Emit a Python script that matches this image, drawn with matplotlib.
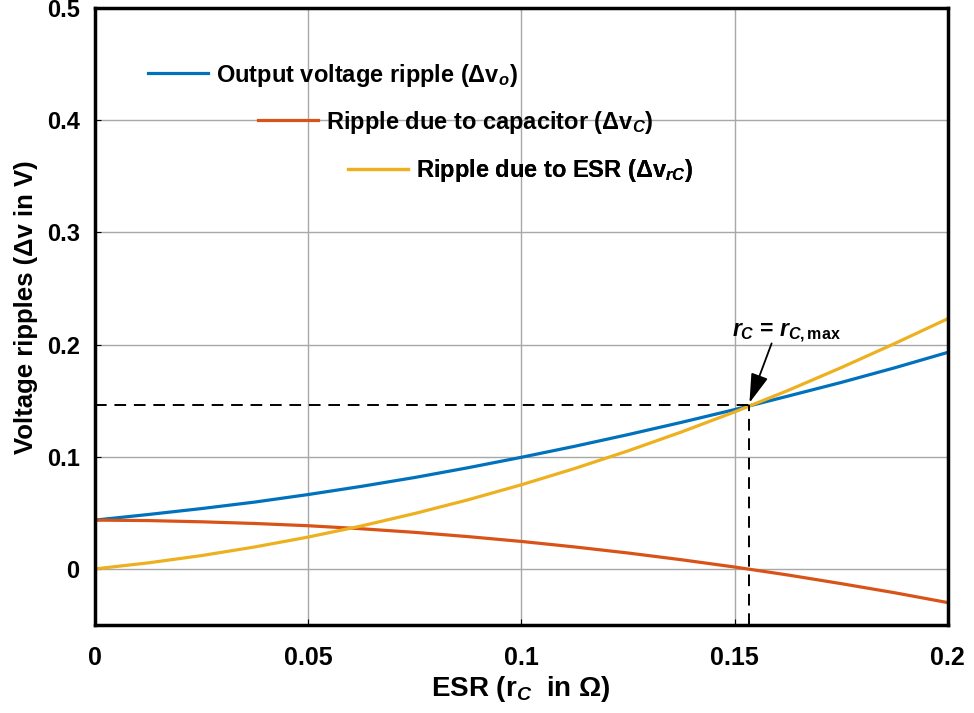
import matplotlib
matplotlib.use("Agg")
import matplotlib.pyplot as plt
import numpy as np

# fonts, bold sans like the MATLAB export
plt.rcParams['font.family'] = ['Liberation Sans', 'DejaVu Sans']
plt.rcParams['font.weight'] = 'bold'
plt.rcParams['mathtext.fontset'] = 'custom'
plt.rcParams['mathtext.rm'] = 'Liberation Sans:bold'
plt.rcParams['mathtext.it'] = 'Liberation Sans:italic:bold'
plt.rcParams['mathtext.bf'] = 'Liberation Sans:bold'

# ESR values (ohm)
esr = [0, 0.0125, 0.025, 0.0375, 0.05, 0.0625, 0.075, 0.0875, 0.1,
       0.1125, 0.125, 0.1375, 0.15, 0.1625, 0.175, 0.1875, 0.2]
# output voltage ripple
dv_o = [0.0435, 0.0485, 0.0538, 0.0596, 0.0663, 0.0736, 0.0815, 0.0902, 0.0995,
        0.1093, 0.1197, 0.1306, 0.1420, 0.1540, 0.1662, 0.1792, 0.1930]
# ripple due to capacitor
dv_c = [0.0435, 0.0431, 0.042, 0.0405, 0.0385, 0.0358, 0.0326, 0.0288, 0.0245,
        0.0196, 0.0142, 0.0082, 0.0017, -0.0054, -0.0131, -0.0212, -0.030]
# ripple due to ESR
dv_rc = [0, 0.0054, 0.0119, 0.0196, 0.0284, 0.0383, 0.0494, 0.0616, 0.075,
         0.0895, 0.1052, 0.122, 0.1399, 0.159, 0.1794, 0.2008, 0.223]

r_max = 0.1535
v_max = 0.146

xticks = [0, 0.05, 0.1, 0.15, 0.2]
xticklabels = ['0', '0.05', '0.1', '0.15', '0.2']
yticks = [0, 0.1, 0.2, 0.3, 0.4, 0.5]
yticklabels = ['0', '0.1', '0.2', '0.3', '0.4', '0.5']

c_blue = '#0072BD'
c_orange = '#D95319'
c_yellow = '#EDB120'

fig = plt.figure(figsize=(9.74, 7.13), dpi=100)
ax = fig.add_axes([0.0975, 0.1234, 0.8755, 0.8654])

ax.grid(True, color='#a8a8a8', linewidth=1.0)
ax.set_axisbelow(True)

l1, = ax.plot(esr, dv_o, color=c_blue, linewidth=2.3)
l2, = ax.plot(esr, dv_c, color=c_orange, linewidth=2.3)
l3, = ax.plot(esr, dv_rc, color=c_yellow, linewidth=2.3)

# dashed guides at r_C,max
ax.plot([0, r_max], [v_max, v_max], color='black', linestyle=(0, (6, 4)), linewidth=1.4)
ax.plot([r_max, r_max], [-0.05, v_max], color='black', linestyle=(0, (6, 4)), linewidth=1.4)

ax.text(0.1493, 0.207, r'$\mathit{r}_{C}$ = $\mathit{r}_{C,\mathrm{max}}$',
        fontsize=16.5, fontweight='bold', ha='left', va='baseline')
ax.annotate('', xy=(r_max, v_max + 0.002), xytext=(0.1587, 0.201),
            arrowprops=dict(arrowstyle='-|>,head_width=0.3,head_length=1.0', color='black',
                            lw=1.3, mutation_scale=18, shrinkA=0, shrinkB=0))

ax.set_xlim(0, 0.2)
ax.set_ylim(-0.05, 0.5)
ax.set_xticks(xticks, xticklabels)
ax.set_yticks(yticks, yticklabels)
ax.tick_params(direction='in', length=4)
ax.tick_params(axis='x', pad=15, labelsize=18)
ax.tick_params(axis='y', pad=11, labelsize=17)
for s in ax.spines.values():
    s.set_linewidth(2.5)

ax.set_xlabel('ESR (r$_{C}$  in \u03a9)', fontsize=20, fontweight='bold', labelpad=3)
ax.set_ylabel('Voltage ripples (\u0394v in V)', fontsize=18.5, fontweight='bold')
ax.yaxis.set_label_coords(-0.067, 0.515)

# staggered legend entries
labels = ['Output voltage ripple (\u0394v$_{o}$)',
          'Ripple due to capacitor (\u0394v$_{C}$)',
          'Ripple due to ESR (\u0394v$_{rC}$)']
anchors = [(0.062, 0.891), (0.191, 0.815), (0.297, 0.737)]
for h, lab, anc in zip([l1, l2, l3], labels, anchors):
    lg = ax.legend([h], [lab], loc='center left', bbox_to_anchor=anc, frameon=False,
                   fontsize=17, handlelength=2.55, handletextpad=0.34, borderpad=0,
                   borderaxespad=0)
    ax.add_artist(lg)

fig.savefig('out.png', dpi=100)
